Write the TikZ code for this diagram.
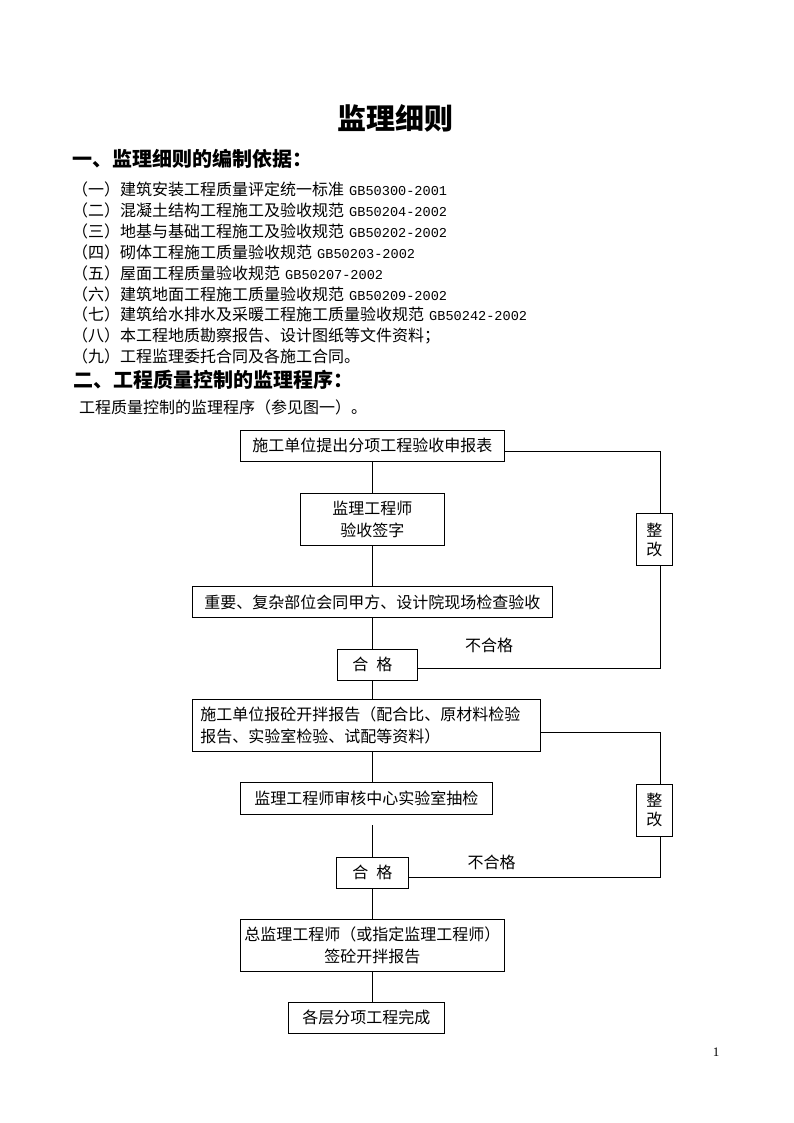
\documentclass[tikz,border=0pt]{standalone}
\usepackage{fontspec}
\setmainfont{Noto Sans CJK SC}
\newfontfamily\asc{Liberation Mono}
\newfontfamily\serifnum{Liberation Serif}
\newcommand\gbc[1]{\hspace{5pt}{\asc\fontsize{13.6}{16}\selectfont #1}}
\begin{document}
\begin{tikzpicture}[x=1pt,y=-1pt,
  box/.style={draw=black, line width=0.8pt, inner sep=0pt, align=center, font=\fontsize{16}{22}\selectfont},
  txt/.style={inner sep=0pt, anchor=base west, font=\fontsize{16}{16}\selectfont},
  head/.style={inner sep=0pt, anchor=base west, font=\fontsize{20}{20}\selectfont\bfseries},
  lbl/.style={inner sep=0pt, font=\fontsize{16}{16}\selectfont},
  conn/.style={draw=black, line width=0.8pt}]
\useasboundingbox (0,0) rectangle (794,1123);
\fill[white] (0,0) rectangle (794,1123);

% title and text
\node[inner sep=0pt, anchor=base, font=\fontsize{29}{29}\selectfont\bfseries] (title) at (395,130) {监理细则};
\node[head] (h1) at (72,166.5) {一、监理细则的编制依据：};
\node[txt] (l1) at (72,196.0) {（一）建筑安装工程质量评定统一标准\gbc{GB50300-2001}};
\node[txt] (l2) at (72,216.8) {（二）混凝土结构工程施工及验收规范\gbc{GB50204-2002}};
\node[txt] (l3) at (72,237.6) {（三）地基与基础工程施工及验收规范\gbc{GB50202-2002}};
\node[txt] (l4) at (72,258.4) {（四）砌体工程施工质量验收规范\gbc{GB50203-2002}};
\node[txt] (l5) at (72,279.2) {（五）屋面工程质量验收规范\gbc{GB50207-2002}};
\node[txt] (l6) at (72,300.0) {（六）建筑地面工程施工质量验收规范\gbc{GB50209-2002}};
\node[txt] (l7) at (72,320.8) {（七）建筑给水排水及采暖工程施工质量验收规范\gbc{GB50242-2002}};
\node[txt] (l8) at (72,341.6) {（八）本工程地质勘察报告、设计图纸等文件资料；};
\node[txt] (l9) at (72,362.4) {（九）工程监理委托合同及各施工合同。};
\node[head] (h2) at (73,387.6) {二、工程质量控制的监理程序：};
\node[txt] (para) at (79,413.7) {工程质量控制的监理程序（参见图一）。};

% flowchart boxes
\node[box, minimum width=264pt, minimum height=31pt] (b1) at (372.3,445.6) {施工单位提出分项工程验收申报表};
\node[box, minimum width=144pt, minimum height=52pt] (b2) at (372.3,519.3) {监理工程师\\验收签字};
\node[box, minimum width=360pt, minimum height=30.6pt] (b3) at (372.3,602) {重要、复杂部位会同甲方、设计院现场检查验收};
\node[box, minimum width=80.7pt, minimum height=30.7pt] (p1) at (377.3,664.7) {合\hspace{8pt}格\hspace*{10pt}};
\node[box, minimum width=36pt, minimum height=52.4pt, font=\fontsize{16}{19}\selectfont] (f1) at (654.3,539.5) {整\\改};
\node[lbl] (n1) at (489,645) {不合格};

\node[box, text width=332pt, align=left, inner xsep=8pt, minimum height=52pt, font=\fontsize{16}{21.7}\selectfont] (b4) at (366.3,725.3) {施工单位报砼开拌报告（配合比、原材料检验\\报告、实验室检验、试配等资料）};
\node[box, minimum width=252pt, minimum height=32pt] (b5) at (366.3,798.3) {监理工程师审核中心实验室抽检};
\node[box, minimum width=72pt, minimum height=31pt] (p2) at (372.3,872.8) {合\hspace{8pt}格};
\node[box, minimum width=36pt, minimum height=52pt, font=\fontsize{16}{19}\selectfont] (f2) at (654.3,810.3) {整\\改};
\node[lbl] (n2) at (491.5,862) {不合格};
\node[box, minimum width=264pt, minimum height=51.7pt] (b6) at (372.3,945.2) {总监理工程师（或指定监理工程师）\\签砼开拌报告};
\node[box, minimum width=156pt, minimum height=30.7pt] (b7) at (366.3,1017.7) {各层分项工程完成};

\node[inner sep=0pt, font=\serifnum\fontsize{13}{13}\selectfont] (pg) at (716,1052) {1};

% connectors
\draw[conn] (b1.south) -- (b2.north);
\draw[conn] (b2.south) -- (b3.north);
\draw[conn] (b3.south) -- (b3.south |- p1.north);
\draw[conn] (b3.south |- p1.south) -- (b3.south |- b4.north);
\draw[conn] (b3.south |- b4.south) -- (b3.south |- b5.north);
\coordinate (g) at (372.3,825);
\draw[conn] (g) -- (p2.north);
\draw[conn] (p2.south) -- (b6.north);
\draw[conn] (b6.south) -- (b6.south |- b7.north);

\draw[conn] ([yshift=-6pt]b1.east) -| ([xshift=6pt]f1.north);
\draw[conn] ([xshift=6pt]f1.south) |- ([yshift=-4pt]p1.east);
\draw[conn] ([yshift=-7pt]b4.east) -| ([xshift=6pt]f2.north);
\draw[conn] ([xshift=6pt]f2.south) |- ([yshift=-4.2pt]p2.east);
\end{tikzpicture}
\end{document}
